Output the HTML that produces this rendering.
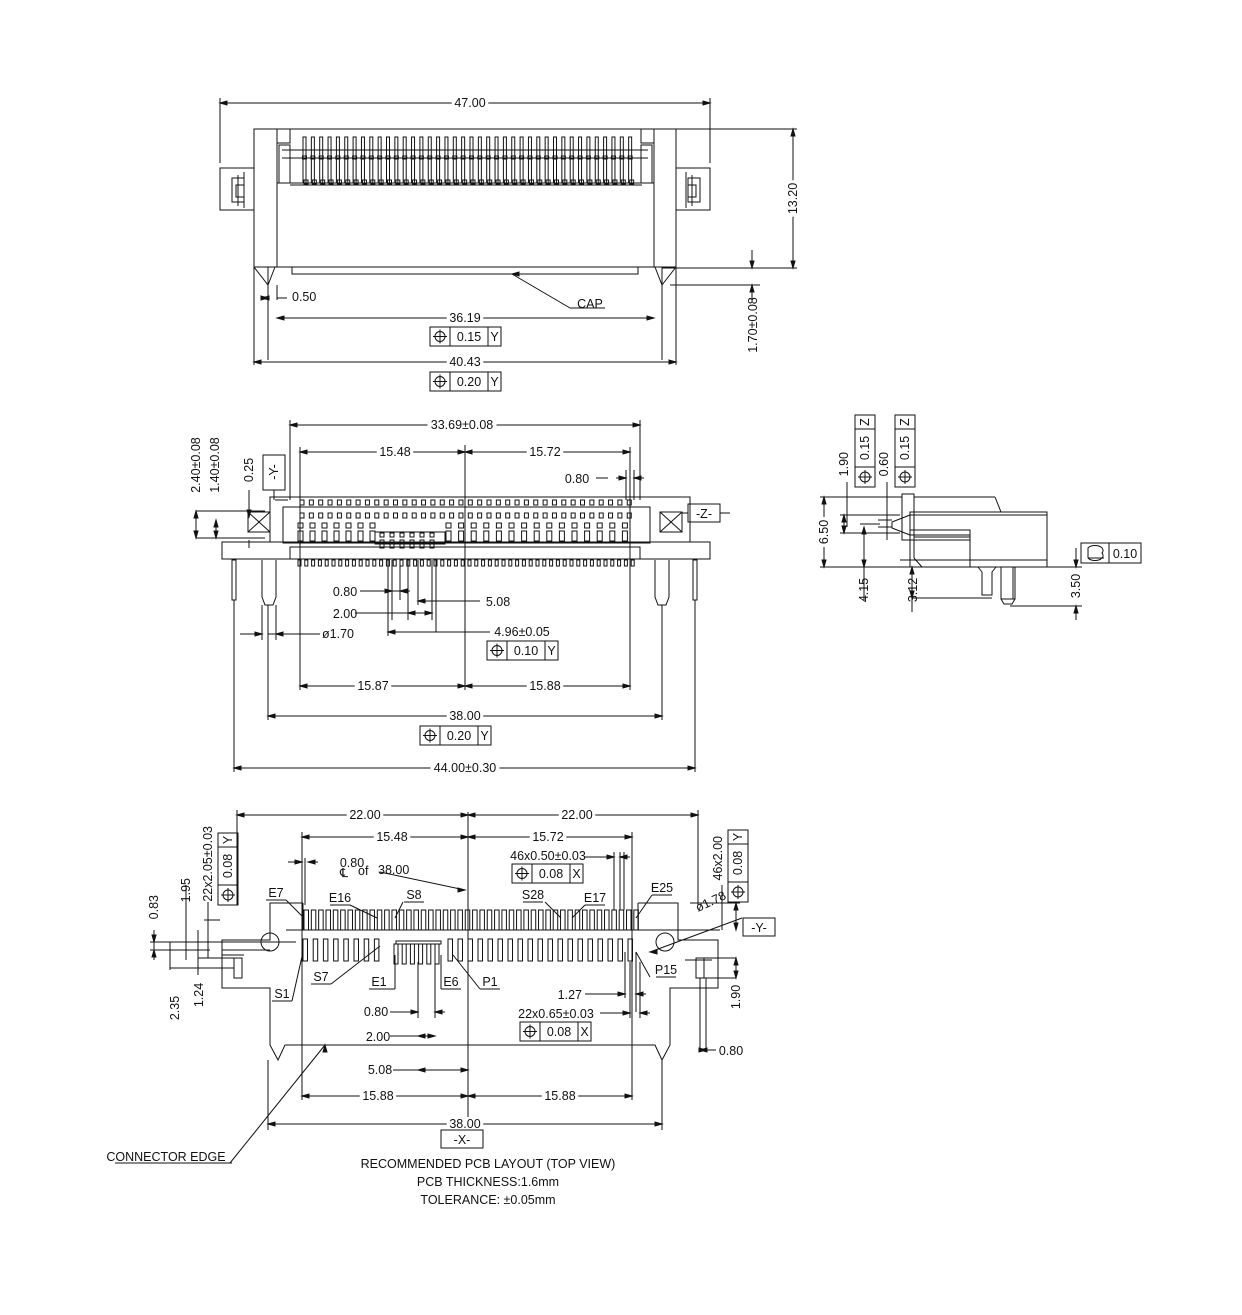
<!DOCTYPE html>
<html><head><meta charset="utf-8">
<style>
html,body{margin:0;padding:0;background:#fff;}
svg{display:block;}
text{font-family:"Liberation Sans",sans-serif;font-size:12.5px;fill:#111;}
</style></head>
<body>
<svg id="s" width="1242" height="1315" viewBox="0 0 1242 1315" xmlns="http://www.w3.org/2000/svg">
<rect width="1242" height="1315" fill="#fff"/>
<g id="g" stroke="#111" stroke-width="1" fill="none"></g>
<g id="t"></g>
</svg>
<script>
var g=[],t=[];
function L(a,b,c,d){g.push('<line x1="'+a+'" y1="'+b+'" x2="'+c+'" y2="'+d+'"/>');}
function R(x,y,w,h){g.push('<rect x="'+x+'" y="'+y+'" width="'+w+'" height="'+h+'"/>');}
function P(pts,cl){g.push('<polyline points="'+pts+'"'+(cl?' ':'')+'/>');}
function C(x,y,r){g.push('<circle cx="'+x+'" cy="'+y+'" r="'+r+'"/>');}
function T(x,y,s,a,rot){var tr=rot?' transform="rotate('+rot+' '+x+' '+y+')"':'';t.push('<text x="'+x+'" y="'+y+'" text-anchor="'+(a||'middle')+'"'+tr+'>'+s+'</text>');}
function AR(x,y,dir){
 var p;if(dir=='l')p=[x,y,x+7,y-2,x+7,y+2];if(dir=='r')p=[x,y,x-7,y-2,x-7,y+2];
 if(dir=='u')p=[x,y,x-2,y+7,x+2,y+7];if(dir=='d')p=[x,y,x-2,y-7,x+2,y-7];
 g.push('<polygon fill="#111" points="'+p.join(',')+'"/>');}
function DH(x1,x2,y,txt,tx){L(x1,y,x2,y);AR(x1,y,'l');AR(x2,y,'r');if(txt){var w=txt.length*6.5+4;tx=tx||(x1+x2)/2;g.push('<rect x="'+(tx-w/2)+'" y="'+(y-7)+'" width="'+w+'" height="10" fill="#fff" stroke="none"/>');T(tx,y+4,txt);}}
function DV(x,y1,y2,txt,ty){L(x,y1,x,y2);AR(x,y1,'u');AR(x,y2,'d');if(txt){var w=txt.length*6.5+4;ty=ty||(y1+y2)/2;g.push('<rect x="'+(x-7)+'" y="'+(ty-w/2)+'" width="10" height="'+w+'" fill="#fff" stroke="none"/>');T(x+4,ty,txt,'middle',-90);}}
function PHI(cx,cy){C(cx,cy,5);L(cx-7,cy,cx+7,cy);L(cx,cy-7,cx,cy+7);}
function FCF(x,y,val,d){var h=19;R(x,y,20,h);PHI(x+10,y+h/2);R(x+20,y,38,h);T(x+39,y+14,val);R(x+58,y,13,h);T(x+64.5,y+14,d);}
function FCFV(x,y,val,d){
 var w=20;R(x,y,w,14);T(x+14,y+7,d,'middle',-90);R(x,y+14,w,38);T(x+14,y+33,val,'middle',-90);R(x,y+52,w,20);PHI(x+10,y+62);}
function LB(x,y,s){R(x-s.length*5-6,y,s.length*10+12,18);T(x,y+14,s);}

/* TOP VIEW */
DH(220,710,103,'47.00',470);L(220,98,220,163);L(710,98,710,163);
R(254,129,422,138);
L(277,129,277,267);L(654,129,654,267);
R(220,168,34,42);R(232,178,12,24);L(238,175,238,206);L(244,172,244,208);R(236,185,8,12);
R(676,168,34,42);R(688,178,12,24);L(692,175,692,206);L(686,172,686,208);R(688,185,8,12);
R(277,129,13,14);R(641,129,13,14);R(279,145,11,38);R(641,145,11,38);
L(277,183,654,183);L(290,185,642,185);L(282,150,648,150);L(282,158,648,158);
for(var i=0;i<40;i++){var x=303+i*8.35;R(x,137,3,46);R(x-0.5,156,4,3);R(x+1,180,4,4);}
L(254,267,676,267);R(292,267,346,7);
P('254,267 268,285 275,267');P('676,267 662,285 655,267');
L(268,285,268,300);L(277,285,277,300);DH(262,268,298,'',0);T(292,301,'0.50','start');L(277,298,287,298);
L(268,267,268,360);L(662,267,662,360);L(254,267,254,365);L(676,267,676,365);
L(512,274,570,308);AR(512,274,'l');T(590,308,'CAP');L(570,308,605,308);
DH(277,654,318,'36.19',465);FCF(430,327,'0.15','Y');
DH(254,676,362,'40.43',465);FCF(430,372,'0.20','Y');
L(676,129,797,129);L(662,268,797,268);DV(793,129,268,'13.20');
L(670,285,760,285);L(752,250,752,268);AR(752,268,'d');L(752,285,752,300);AR(752,285,'u');T(757,325,'1.70±0.08','middle',-90);

/* FRONT VIEW */
DH(290,640,425,'33.69±0.08',462);L(290,420,290,500);L(640,420,640,500);
DH(300,465,452,'15.48',395);DH(465,630,452,'15.72',545);L(300,447,300,690);L(630,447,630,690);L(465,445,465,690);
L(616,478,626,478);AR(626,478,'r');T(577,483,'0.80');L(596,478,608,478);L(626,470,626,500);L(634,470,634,500);AR(634,478,'l');L(634,478,644,478);
R(270,497,420,45);R(283,507,367,36);L(275,500,288,500);
R(222,542,488,17);R(290,547,350,12);
R(248,512,22,20);L(248,512,270,532);L(248,532,270,512);R(660,512,22,20);L(660,512,682,532);L(660,532,682,512);
for(var i=0;i<36;i++){var x=300+i*9.35;R(x,500,4,5);R(x,513,4,5);}
for(var i=0;i<7;i++){R(298+i*12,523,5,5);R(298+i*12,531,5,10);}
for(var i=0;i<15;i++){R(446+i*12.6,523,5,5);R(446+i*12.6,531,5,10);}
R(375,532,70,12);for(var i=0;i<6;i++){R(380+i*10,533,4,4);R(380+i*10,540,4,8);}
for(var i=0;i<50;i++){R(298+i*6.8,560,3,6);}
R(232,560,4,40);R(693,560,4,40);
P('262,560 262,597 265,605 273,605 276,597 276,560');P('655,560 655,597 658,605 666,605 669,597 669,560');
L(196,511,265,511);L(196,538,265,538);T(200,465,'2.40±0.08','middle',-90);DV(196,511,538,'');T(219,465,'1.40±0.08','middle',-90);DV(216,520,538,'');
T(253,470,'0.25','middle',-90);L(249,490,249,510);AR(249,517,'d');L(249,540,249,548);
R(263,455,22,35);T(278,472,'-Y-','middle',-90);L(274,490,274,500);
R(688,504,32,18);T(704,518,'-Z-');L(682,513,688,513);L(720,513,730,513);
L(360,591,392,591);AR(392,591,'r');T(345,596,'0.80');L(400,591,392,591);AR(400,591,'l');L(400,591,410,591);L(392,560,392,620);L(400,560,400,600);
L(355,613,408,613);T(345,618,'2.00');L(408,560,408,620);DH(408,432,613,'',0);L(432,560,432,620);
L(418,601,480,601);AR(418,601,'l');T(498,606,'5.08');L(418,560,418,605);
T(338,638,'ø1.70');L(268,634,320,634);AR(276,634,'l');L(262,605,262,640);L(276,605,276,640);L(240,634,262,634);AR(262,634,'r');
T(522,636,'4.96±0.05');L(388,632,490,632);AR(388,632,'l');L(388,560,388,636);L(436,632,436,560);FCF(487,641,'0.10','Y');
DH(300,465,686,'15.87',373);DH(465,630,686,'15.88',545);
DH(268,662,716,'38.00',465);L(268,605,268,720);L(662,605,662,720);FCF(420,726,'0.20','Y');
DH(234,695,768,'44.00±0.30',465);L(234,600,234,772);L(695,600,695,772);

/* SIDE VIEW */
FCFV(855,415,'0.15','Z');FCFV(895,415,'0.15','Z');
T(848,452,'1.90','end',-90);T(888,452,'0.60','end',-90);
L(847,482,847,527);L(887,482,887,540);
R(902,494,12,46);L(914,497,995,497);L(995,497,1001,512);
R(910,512,137,55);L(910,515,1047,515);
P('910,515 892,522 892,528 910,535');
R(910,530,60,5);R(914,535,56,2);L(914,537,970,537);L(910,540,970,540);
L(970,535,970,567);
L(914,540,914,558);L(914,558,922,567);
L(900,560,1047,560);
P('978,567 982,572 982,595 992,595 992,572 996,567');
R(1001,567,14,32);P('1001,599 1004,604 1012,604 1015,599');L(1013,567,1013,599);
L(1020,567,1038,567);
L(820,497,902,497);L(820,567,910,567);DV(824,497,567,'6.50',532);
L(840,515,900,515);L(840,533,900,533);DV(844,515,533,'');
L(860,524,880,524);L(878,520,892,520);L(878,527,892,527);
DV(864,527,567,'4.15',590);L(864,567,864,600);
L(912,567,912,612);AR(912,567,'u');T(917,590,'3.12','middle',-90);L(912,598,992,598);AR(912,598,'d');
L(1010,606,1082,606);L(1038,567,1082,567);L(1076,548,1076,567);AR(1076,567,'d');L(1076,606,1076,620);AR(1076,606,'u');T(1080,586,'3.50','middle',-90);
R(1081,543,28,20);g.push('<path d="M1088,558 L1088,548 A8,5 0 0 1 1102,553 A8,5 0 0 1 1088,558 M1088,558 L1104,558"/>');R(1109,543,32,20);T(1125,558,'0.10');

/* PCB LAYOUT */
DH(237,468,815,'22.00',365);DH(468,698,815,'22.00',577);L(237,810,237,905);L(698,810,698,905);L(468,812,468,1125);
DH(302,468,837,'15.48',392);DH(468,632,837,'15.72',548);L(302,832,302,1100);L(632,832,632,1100);
L(288,862,302,862);AR(302,862,'r');L(308,862,318,862);AR(308,862,'l');T(352,867,'0.80');L(305,858,305,905);
T(340,877,'℄','start');T(358,875,'of','start');T(378,874,'38.00','start');L(380,872,465,890);AR(465,890,'r');
T(548,860,'46x0.50±0.03');L(585,857,614,857);AR(614,857,'r');L(620,857,630,857);AR(620,857,'l');L(614,852,614,910);L(620,852,620,910);L(624,852,624,910);
FCF(512,864,'0.08','X');
P('303,903 270,903 270,940 222,940 222,988 270,988 270,1045 278,1060 285,1045 655,1045 662,1060 670,1045 670,988 718,988 718,940 678,940 678,903 638,903');
L(303,903,303,930);L(638,903,638,930);
for(var i=0;i<46;i++){R(304+i*7.33,910,4.5,20);}
L(286,930,720,930);L(150,942,296,942);L(150,950,210,950);
for(var i=0;i<8;i++){R(303+i*10.2,939,4.5,22);}
for(var i=0;i<6;i++){R(394+i*8.2,944,4,20);}
for(var i=0;i<19;i++){R(448+i*10,939,4.5,22);}
R(396,941,45,3);
C(270,942,9);C(665,942,9);R(234,958,8,20);R(696,958,8,20);L(685,960,712,960);
L(222,950,270,950);L(222,955,244,955);
function LBL(x,y,s,lx,ly,sx,sy){T(x,y,s);L(x-10,y+3,x+10,y+3);L(lx,ly,sx,sy);}
LBL(276,897,'E7',286,900,304,918);L(266,900,286,900);
LBL(340,902,'E16',350,905,377,918);
LBL(414,899,'S8',403,902,395,918);
LBL(533,899,'S28',545,902,561,918);
LBL(595,902,'E17',585,905,572,918);
LBL(662,892,'E25',652,895,636,918);
LBL(321,981,'S7',331,984,380,946);L(311,984,331,984);
LBL(282,998,'S1',292,1001,303,952);
LBL(379,986,'E1',395,989,395,955);L(369,989,395,989);
LBL(451,986,'E6',441,989,441,955);
LBL(490,986,'P1',480,989,453,955);
LBL(666,974,'P15',650,977,636,952);
T(698,912,'ø1.78','start',-25);L(650,952,742,918);AR(650,952,'l');
R(743,918,32,18);T(759,932,'-Y-');
FCFV(218,833,'0.08','Y');T(212,826,'22x2.05±0.03','end',-90);L(208,902,208,958);L(204,920,220,920);
FCFV(728,830,'0.08','Y');T(722,836,'46x2.00','end',-90);L(722,885,722,930);L(690,903,740,903);AR(736,903,'u');AR(736,930,'d');L(736,903,736,930);
T(158,895,'0.83','end',-90);L(154,930,154,960);AR(154,942,'d');AR(154,950,'u');
T(190,878,'1.95','end',-90);L(186,885,186,960);L(186,942,186,925);
T(179,1008,'2.35','middle',-90);L(170,942,170,970);L(170,968,234,968);
T(203,995,'1.24','middle',-90);L(198,930,198,975);L(198,958,234,958);
T(740,997,'1.90','middle',-90);L(704,958,736,958);L(704,978,736,978);DV(736,958,978,'');
L(700,978,700,1052);L(706,978,706,1052);DH(700,706,1050,'',0);L(706,1050,716,1050);T(731,1055,'0.80');
L(625,952,625,998);L(636,952,636,1012);
L(585,994,620,994);AR(625,994,'r');AR(636,994,'l');L(636,994,646,994);T(582,999,'1.27','end');
L(600,1013,630,1013);AR(630,1013,'r');L(640,1013,650,1013);AR(640,1013,'l');T(556,1018,'22x0.65±0.03');L(630,962,630,1018);L(640,962,640,1018);
FCF(520,1022,'0.08','X');
L(390,1012,418,1012);AR(418,1012,'r');L(435,1012,445,1012);AR(435,1012,'l');T(376,1016,'0.80');L(418,962,418,1018);L(435,962,435,1018);
L(390,1036,418,1036);T(378,1041,'2.00');DH(418,435,1036,'',0);
L(393,1070,418,1070);T(380,1074,'5.08');DH(418,468,1070,'',0);
DH(302,468,1096,'15.88',378);DH(468,632,1096,'15.88',560);
DH(268,662,1124,'38.00',465);L(268,1060,268,1130);L(662,1060,662,1130);
LB(462,1130,'-X-');
L(230,1163,325,1045);AR(325,1045,'u');L(115,1163,232,1163);T(166,1161,'CONNECTOR EDGE');
T(488,1168,'RECOMMENDED  PCB  LAYOUT  (TOP  VIEW)');
T(488,1186,'PCB  THICKNESS:1.6mm');T(488,1204,'TOLERANCE:  ±0.05mm');
document.getElementById('g').innerHTML=g.join('');
document.getElementById('t').innerHTML=t.join('');
</script>
</body></html>
